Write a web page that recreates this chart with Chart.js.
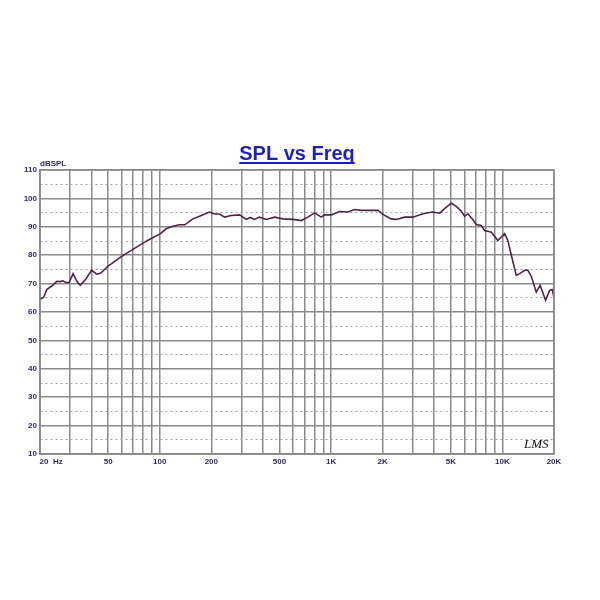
<!DOCTYPE html>
<html>
<head>
<meta charset="utf-8">
<script src="https://cdn.jsdelivr.net/npm/chart.js@4/dist/chart.umd.min.js"></script>
<style>
  html, body { margin: 0; padding: 0; background: #fff; }
  #wrap { width: 600px; height: 600px; position: relative; }
</style>
</head>
<body>
<div id="wrap"><canvas id="spl-chart"></canvas></div>
<script>
const FREQ = [20, 21, 21.9, 23.7, 25.1, 26.2, 27.2, 28.3, 29.6, 31.2, 32.8, 34.3, 37, 40, 42.9, 45.3, 50, 59.3, 70.9, 84.8,
  101, 109, 119, 130, 140, 156, 175, 195, 209, 223, 239, 261, 292, 320, 337, 357, 382, 418, 468, 523, 598,
  670, 732, 801, 876, 916, 1002, 1120, 1253, 1371, 1500, 1875, 2052, 2244, 2402, 2686, 3002, 3434,
  3926, 4300, 4596, 5030, 5380, 5754, 6016, 6290, 6726, 7038, 7526, 7868, 8610, 9410, 9850,
  10300, 10760, 11270, 12050, 12600, 13470, 14080, 14740, 15760, 16600, 17860, 18850, 19500, 20000];

const SPL = [64.5, 65.1, 67.9, 69.4, 70.8, 70.7, 71.0, 70.4, 70.4, 73.5, 70.8, 69.4, 71.5, 74.7, 73.3, 73.7, 76.2, 79.4, 82.3, 85.2,
  87.6, 89.3, 90.2, 90.7, 90.7, 92.8, 94.0, 95.2, 94.5, 94.5, 93.4, 94.0, 94.2, 92.6, 93.3, 92.6, 93.4, 92.6, 93.4, 92.8, 92.6,
  92.2, 93.4, 94.9, 93.4, 94.2, 94.2, 95.4, 95.2, 96.1, 95.8, 95.8, 94.0, 92.8, 92.6, 93.4, 93.4, 94.6,
  95.2, 94.8, 96.4, 98.3, 97.2, 95.5, 93.7, 94.6, 92.5, 90.8, 90.5, 88.7, 88.1, 85.2, 86.4,
  87.6, 85.2, 80, 72.9, 73.5, 74.7, 74.7, 72.6, 67, 69.4, 64.1, 67.6, 67.9, 65.3];

const X_GRID = [20, 30, 40, 50, 60, 70, 80, 90, 100, 200, 300, 400, 500, 600, 700, 800, 900,
  1000, 2000, 3000, 4000, 5000, 6000, 7000, 8000, 9000, 10000, 20000];
const X_LABELS = { 20: "          20  Hz", 50: "50", 100: "100", 200: "200", 500: "500",
  1000: "1K", 2000: "2K", 5000: "5K", 10000: "10K", 20000: "20K" };

const TITLE = "SPL vs Freq";
const Y_UNIT = "dBSPL";
const MARK = "LMS";

const GRID_COLOR = "#8a8a8a";
const LABEL_COLOR = "#2c2c5c";
const LABEL_FONT = { family: "Arial, 'Liberation Sans', sans-serif", size: 8, weight: "bold" };

// title, unit label and the LMS mark drawn on top of the canvas
const decorPlugin = {
  id: "decor",
  afterDraw(chart) {
    const { ctx, chartArea } = chart;
    ctx.save();
    // title
    ctx.font = "bold 20px Arial, 'Liberation Sans', sans-serif";
    ctx.fillStyle = "#1f1fc0";
    ctx.textAlign = "center";
    ctx.textBaseline = "alphabetic";
    const cx = 297, by = 160;
    ctx.fillText(TITLE, cx, by);
    const w = ctx.measureText(TITLE).width;
    ctx.fillRect(cx - w / 2, by + 2, w, 2);
    // unit label
    ctx.font = "bold 8px Arial, 'Liberation Sans', sans-serif";
    ctx.fillStyle = LABEL_COLOR;
    ctx.textAlign = "left";
    ctx.fillText(Y_UNIT, chartArea.left, chartArea.top - 4);
    // LMS mark
    ctx.font = "italic 13px 'Liberation Serif', serif";
    ctx.fillStyle = "#111";
    ctx.fillText(MARK, chartArea.right - 30, chartArea.bottom - 6);
    ctx.restore();
  },
};

new Chart(document.getElementById("spl-chart"), {
  type: "line",
  data: {
    datasets: [{
      data: FREQ.map((f, i) => ({ x: f, y: SPL[i] })),
      borderColor: "#4e2446",
      borderWidth: 1.6,
      pointRadius: 0,
      tension: 0,
      fill: false,
    }],
  },
  options: {
    responsive: true,
    maintainAspectRatio: false,
    animation: false,
    layout: { padding: { top: 170, right: 46, bottom: 126, left: 0 } },
    plugins: { legend: { display: false }, tooltip: { enabled: false } },
    scales: {
      x: {
        type: "logarithmic",
        min: 20,
        max: 20000,
        afterBuildTicks: scale => { scale.ticks = X_GRID.map(v => ({ value: v })); },
        afterFit: scale => { scale.height = 20; },
        ticks: {
          autoSkip: false,
          maxRotation: 0,
          padding: 3,
          color: LABEL_COLOR,
          font: LABEL_FONT,
          callback: v => X_LABELS[v] ?? "",
        },
        grid: { color: GRID_COLOR, lineWidth: 1.5, drawTicks: false },
        border: { display: true, color: GRID_COLOR, width: 1.5 },
      },
      y: {
        min: 10,
        max: 110,
        afterFit: scale => { scale.width = 40; },
        ticks: {
          stepSize: 5,
          padding: 3,
          color: LABEL_COLOR,
          font: LABEL_FONT,
          callback: v => (v % 10 === 0 ? String(v) : ""),
        },
        grid: {
          drawTicks: false,
          color: ctx => (ctx.tick && ctx.tick.value % 10 !== 0 ? "#a0a0a0" : GRID_COLOR),
          lineWidth: ctx => (ctx.tick && ctx.tick.value % 10 !== 0 ? 1 : 1.5),
        },
        border: {
          display: true,
          color: GRID_COLOR,
          width: 1.5,
          dash: ctx => (ctx.tick && ctx.tick.value % 10 !== 0 ? [2, 3] : []),
        },
      },
    },
  },
  plugins: [decorPlugin,
    {
      id: "frame",
      afterDatasetsDraw(chart) {
        const { ctx, chartArea: a } = chart;
        ctx.save();
        ctx.strokeStyle = GRID_COLOR;
        ctx.lineWidth = 1.5;
        ctx.strokeRect(a.left, a.top, a.right - a.left, a.bottom - a.top);
        ctx.restore();
      },
    }],
});
</script>
</body>
</html>
